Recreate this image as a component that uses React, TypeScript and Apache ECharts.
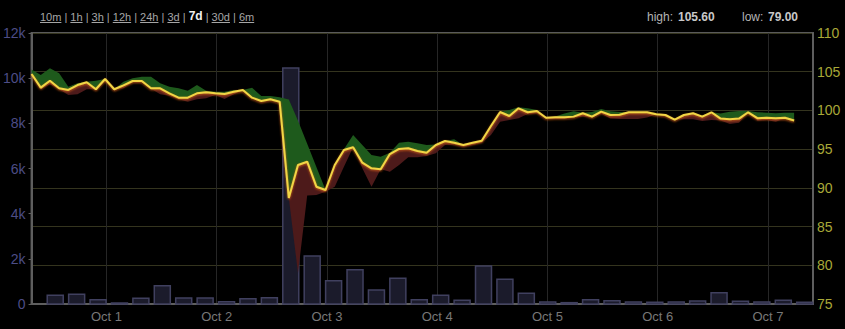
import React, { useEffect, useRef } from 'react';
import * as echarts from 'echarts';

// ---- data ----
const priceMid = [
  104.7, 102.94, 103.84, 102.86, 102.64, 103.28, 103.63, 102.73, 104.06, 102.73,
  103.24, 103.8, 103.8, 102.86, 102.86, 102.21, 101.65, 101.65, 102.21, 102.34,
  102.21, 102.12, 102.42, 102.64, 101.65, 101.22, 101.44, 101.13, 88.7, 92.95,
  93.38, 90.15, 89.72, 92.95, 94.89, 95.24, 93.25, 92.52, 92.39, 94.37,
  95.02, 95.11, 94.76, 94.54, 95.54, 96.05, 95.83, 95.54, 95.83, 96.09,
  97.99, 99.8, 99.28, 100.27, 99.76, 99.93, 99.06, 99.11, 99.11, 99.2,
  99.63, 99.2, 99.84, 99.41, 99.45, 99.76, 99.76, 99.76, 99.5, 99.41,
  98.8, 99.41, 99.63, 99.2, 99.76, 98.95, 98.85, 98.95, 99.76, 99.0,
  99.06, 99.0, 99.06, 98.7,
];
const priceHigh = [
  105.3, 104.58, 105.44, 104.8, 103.07, 103.5, 103.72, 103.84, 104.06, 102.73,
  103.72, 104.15, 104.36, 104.36, 103.5, 103.07, 102.86, 102.55, 103.28, 102.55,
  102.42, 102.42, 102.64, 102.64, 102.94, 101.86, 101.86, 101.69, 101.4, 98.67,
  95.7, 92.7, 89.72, 92.95, 95.0, 96.83, 95.54, 94.24, 94.03, 94.54,
  95.83, 95.97, 95.75, 95.54, 95.61, 96.05, 96.27, 95.54, 95.83, 96.09,
  97.99, 99.8, 100.06, 100.4, 100.27, 100.06, 99.06, 99.2, 99.6, 99.9,
  99.7, 99.8, 100.2, 99.9, 99.8, 99.76, 99.76, 99.76, 99.5, 99.41,
  98.8, 99.41, 99.63, 99.3, 99.76, 99.6, 99.84, 99.93, 99.93, 99.76,
  99.7, 99.63, 99.71, 99.71,
];
const priceLow = [
  104.7, 102.73, 103.37, 102.73, 101.99, 102.08, 102.73, 102.73, 104.06, 102.73,
  102.86, 103.63, 103.63, 102.8, 102.08, 101.9, 101.44, 101.13, 101.44, 101.57,
  101.99, 101.48, 102.08, 102.64, 101.57, 101.22, 101.44, 101.0, 88.7, 79.0,
  89.0, 89.08, 89.5, 90.15, 92.73, 95.24, 92.52, 90.15, 92.39, 92.09,
  92.95, 93.94, 93.94, 94.11, 94.46, 95.54, 95.61, 95.32, 95.54, 95.83,
  96.83, 98.55, 98.76, 98.98, 99.54, 99.63, 98.95, 98.9, 98.9, 99.1,
  99.2, 99.1, 99.6, 98.95, 98.9, 98.9, 98.9, 99.1, 99.5, 99.2,
  98.8, 98.85, 98.85, 98.63, 98.76, 98.7, 98.25, 98.41, 99.76, 98.67,
  98.76, 98.55, 98.95, 98.7,
];
const volume = [
  384, 428, 192, 44, 251, 812, 266, 266, 103, 236, 280, 10450,
  2126, 1033, 1520, 620, 1137, 190, 384, 162, 1683, 1092, 472, 89,
  59, 192, 148, 89, 74, 89, 133, 502, 118, 89, 162, 74,
];
const rangeLinks = ['10m', '1h', '3h', '12h', '24h', '3d', '7d', '30d', '6m'];
const activeRange = '7d';
const highValue = '105.60';
const lowValue = '79.00';
const volumeTicks = [0, 2000, 4000, 6000, 8000, 10000, 12000];

// ---- time placement ----
const HOUR = 3600000;
const OCT1 = new Date(2013, 9, 1).getTime();
const PRICE_START_H = -16.31; // first price sample, hours from Oct 1
const PRICE_STEP_H = 2;
const VOL_START_H = -11.16;
const VOL_STEP_H = 4.6616;
const X_MIN = OCT1 + PRICE_START_H * HOUR;
const X_MAX = OCT1 + 153.8 * HOUR;

const priceTimes = priceMid.map((_, i) => OCT1 + (PRICE_START_H + PRICE_STEP_H * i) * HOUR);
const volTimes = volume.map((_, k) => OCT1 + (VOL_START_H + VOL_STEP_H * k) * HOUR);

function measure(text: string, font: string): number {
  const c = document.createElement('canvas').getContext('2d');
  if (!c) return text.length * 6;
  c.font = font;
  return c.measureText(text).width;
}

export default function App() {
  const ref = useRef<HTMLDivElement>(null);
  useEffect(() => {
    if (!ref.current) return;
    const chart = echarts.init(ref.current, null, { renderer: 'svg' });

    const FONT = '"Liberation Sans", Arial, sans-serif';
    const graphics: any[] = [];
    let x = 40;
    const linkFont = `11px ${FONT}`;
    const boldFont = `bold 12px ${FONT}`;
    const sepW = measure(' | ', linkFont);
    rangeLinks.forEach((r, i) => {
      const active = r === activeRange;
      const w = measure(r, active ? boldFont : linkFont);
      graphics.push({
        type: 'text', left: x, top: active ? 10 : 11,
        style: { text: r, fill: active ? '#f0f0f0' : '#a6a6a6', font: active ? boldFont : linkFont },
      });
      if (!active) {
        graphics.push({
          type: 'line', shape: { x1: x, y1: 22.5, x2: x + w, y2: 22.5 },
          style: { stroke: '#a6a6a6', lineWidth: 1 },
        });
      }
      x += w;
      if (i < rangeLinks.length - 1) {
        graphics.push({
          type: 'text', left: x, top: 11,
          style: { text: ' | ', fill: '#a6a6a6', font: linkFont },
        });
        x += sepW;
      }
    });
    graphics.push(
      { type: 'text', left: 647, top: 11, style: { text: 'high:', fill: '#b4b4b4', font: `12px ${FONT}` } },
      { type: 'text', left: 678, top: 11, style: { text: highValue, fill: '#c8c8c8', font: `bold 12px ${FONT}` } },
      { type: 'text', left: 742, top: 11, style: { text: 'low:', fill: '#b4b4b4', font: `12px ${FONT}` } },
      { type: 'text', left: 768, top: 11, style: { text: lowValue, fill: '#c8c8c8', font: `bold 12px ${FONT}` } },
    );

    const lowData = priceTimes.map((t, i) => [t, priceLow[i]]);
    const redData = priceTimes.map((t, i) => [t, Math.max(0, priceMid[i] - priceLow[i])]);
    const greenData = priceTimes.map((t, i) => [t, Math.max(0, priceHigh[i] - priceMid[i])]);
    const midData = priceTimes.map((t, i) => [t, priceMid[i]]);
    const volData = volTimes.map((t, k) => [t, volume[k]]);

    const BAR_W = 16;
    const option: any = {
      animation: false,
      backgroundColor: '#000',
      textStyle: { fontFamily: FONT },
      graphic: graphics,
      grid: {
        left: 31, right: 32, top: 33, bottom: 25,
        show: true, borderColor: '#5a5a5a', borderWidth: 2, backgroundColor: '#000',
      },
      xAxis: {
        type: 'time',
        min: X_MIN, max: X_MAX,
        splitNumber: 7,
        minInterval: 24 * HOUR,
        maxInterval: 24 * HOUR,
        axisLine: { show: true, lineStyle: { color: '#5e5e5e', width: 2 } },
        axisTick: { show: false },
        splitLine: { show: true, lineStyle: { color: '#262626', width: 1 } },
        axisLabel: {
          color: '#787878', fontSize: 13, margin: 6, fontFamily: FONT,
          formatter: (v: number) => 'Oct ' + new Date(v).getDate(),
        },
      },
      yAxis: [
        {
          type: 'value', position: 'left',
          min: volumeTicks[0], max: volumeTicks[volumeTicks.length - 1], interval: 2000,
          axisLine: { show: true, lineStyle: { color: '#5e5e5e', width: 2 } },
          axisTick: { show: true, length: 3, lineStyle: { color: '#5e5e5e' } },
          splitLine: { show: false },
          axisLabel: {
            color: '#4d4d86', fontSize: 14, margin: 6, fontFamily: FONT,
            formatter: (v: number) => (v === 0 ? '0' : v / 1000 + 'k'),
          },
        },
        {
          type: 'value', position: 'right',
          min: 75, max: 110, interval: 5,
          axisLine: { show: true, lineStyle: { color: '#5e5e5e', width: 2 } },
          axisTick: { show: false },
          splitLine: { show: true, lineStyle: { color: '#34341e', width: 1 } },
          axisLabel: { color: '#a8a838', fontSize: 14, margin: 4, fontFamily: FONT },
        },
      ],
      series: [
        {
          type: 'custom', yAxisIndex: 0, data: volData, z: 1,
          encode: { x: 0, y: 1 },
          renderItem: (params: any, api: any) => {
            const top = api.coord([api.value(0), api.value(1)]);
            const base = api.coord([api.value(0), 0]);
            return {
              type: 'rect',
              shape: { x: top[0] - BAR_W / 2, y: top[1], width: BAR_W, height: base[1] - top[1] },
              style: { fill: '#1b1b2b', stroke: '#40405f', lineWidth: 1.5 },
            };
          },
        },
        {
          type: 'line', yAxisIndex: 1, stack: 'p', data: lowData, symbol: 'none', z: 2,
          lineStyle: { width: 0, opacity: 0 },
        },
        {
          type: 'line', yAxisIndex: 1, stack: 'p', data: redData, symbol: 'none', z: 2,
          lineStyle: { width: 0, opacity: 0 },
          areaStyle: { color: '#4d1a1a', opacity: 1 },
        },
        {
          type: 'line', yAxisIndex: 1, stack: 'p', data: greenData, symbol: 'none', z: 2,
          lineStyle: { width: 0, opacity: 0 },
          areaStyle: { color: '#1e5a1c', opacity: 1 },
        },
        {
          type: 'line', yAxisIndex: 1, data: midData, symbol: 'none', z: 3,
          lineStyle: {
            color: '#f2d545', width: 2,
            shadowColor: 'rgba(215,95,20,0.9)', shadowBlur: 2, shadowOffsetY: 1,
          },
        },
      ],
    };
    chart.setOption(option);
    return () => chart.dispose();
  }, []);
  return (
    <div
      ref={ref}
      style={{ position: 'absolute', left: 0, top: 0, width: 845, height: 329, background: '#000' }}
    />
  );
}
